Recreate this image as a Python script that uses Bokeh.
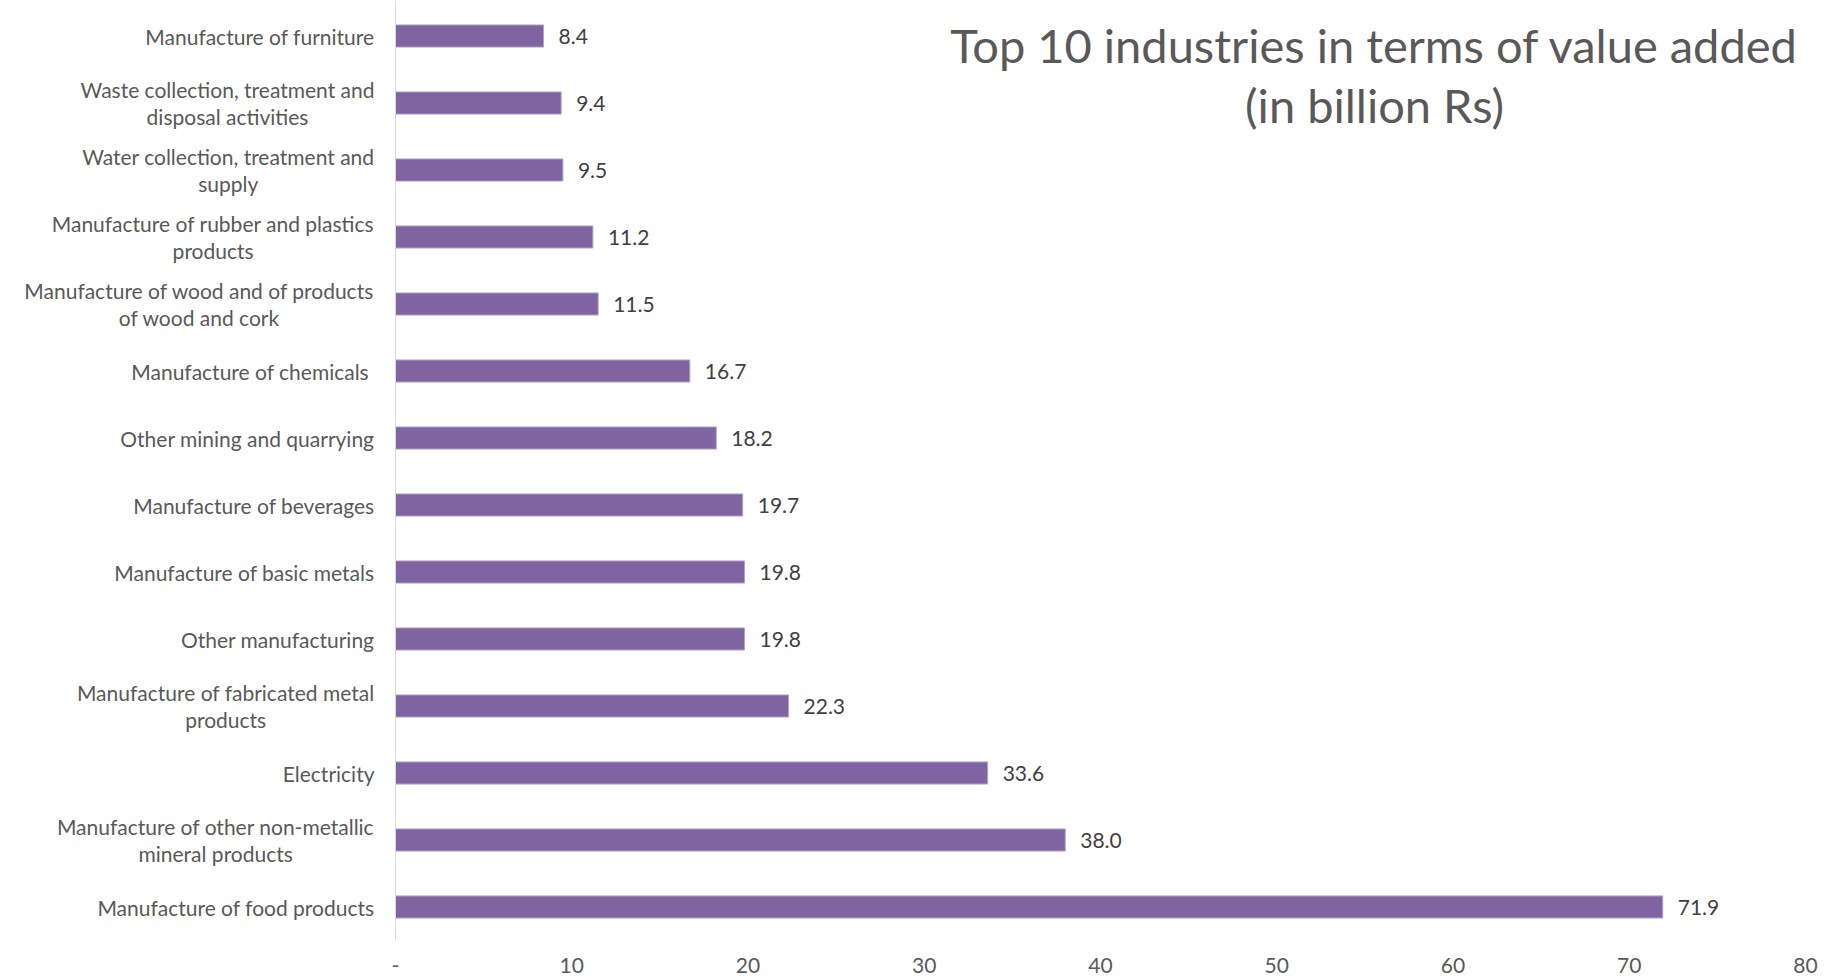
from bokeh.plotting import figure
from bokeh.models import ColumnDataSource, Range1d, FixedTicker, Span, Label
from bokeh.core.properties import value
from bokeh.embed import file_html
from bokeh.resources import INLINE

# ---- data (bottom to top) ----
categories = [
    "Manufacture of food products",
    "Manufacture of other non-metallic\nmineral products",
    "Electricity",
    "Manufacture of fabricated metal\nproducts",
    "Other manufacturing",
    "Manufacture of basic metals",
    "Manufacture of beverages",
    "Other mining and quarrying",
    "Manufacture of chemicals ",
    "Manufacture of wood and of products\nof wood and cork",
    "Manufacture of rubber and plastics\nproducts",
    "Water collection, treatment and\nsupply",
    "Waste collection, treatment and\ndisposal activities",
    "Manufacture of furniture",
]
values = [71.9, 38.0, 33.6, 22.3, 19.8, 19.8, 19.7, 18.2, 16.7, 11.5, 11.2, 9.5, 9.4, 8.4]
x_ticks = [0, 10, 20, 30, 40, 50, 60, 70, 80]
x_tick_labels = ["-", "10", "20", "30", "40", "50", "60", "70", "80"]
title_lines = ["Top 10 industries in terms of value added", "(in billion Rs)"]

FONT = "Lato"
GREY = "#595959"

src = ColumnDataSource(dict(
    y=list(range(len(categories))),
    cat=categories,
    v=values,
    lbl=["{:.1f}".format(v) for v in values],
))

W, H = 1835, 978
p = figure(width=W, height=H,
           x_range=Range1d(-22.41, (W - 395) / 17.625), y_range=Range1d(-0.5, 13.53),
           output_backend="svg", toolbar_location=None, y_axis_location=None,
           min_border_left=0, min_border_right=0, min_border_top=0, min_border_bottom=H - 940)
p.outline_line_color = None
p.xgrid.visible = False
p.ygrid.visible = False
p.background_fill_color = "white"

ax = p.xaxis[0]
ax.ticker = FixedTicker(ticks=x_ticks)
ax.major_label_overrides = {t: s for t, s in zip(x_ticks, x_tick_labels)}
ax.axis_line_color = None
ax.major_tick_line_color = None
ax.minor_tick_line_color = None
ax.major_tick_out = 0
ax.major_tick_in = 0
ax.major_label_standoff = 17
ax.major_label_text_font = FONT
ax.major_label_text_font_size = "21px"
ax.major_label_text_color = GREY

p.add_layout(Span(location=0, dimension="height", line_color="#D9D9D9", line_width=1))

p.hbar(y="y", left=0, right="v", height=0.33, source=src,
       fill_color="#8064A2", line_color="#B3A2C7", line_width=1)

p.text(x=0, y="y", text="cat", source=src, x_offset=-21,
       anchor="center_right", text_align="center", text_baseline="middle",
       text_font=value(FONT), text_font_size="21px", text_color=GREY,
       text_line_height=1.05)

p.text(x="v", y="y", text="lbl", source=src, x_offset=15,
       text_align="left", text_baseline="middle",
       text_font=value(FONT), text_font_size="21px", text_color="#404040")

for ty, line in zip([12.865, 11.965], title_lines):
    p.add_layout(Label(x=55.55, y=ty, text=line, text_align="center",
                       text_baseline="middle", text_font=FONT,
                       text_font_size="47px", text_color=GREY))

open("out.html", "w").write(file_html(p, INLINE))
